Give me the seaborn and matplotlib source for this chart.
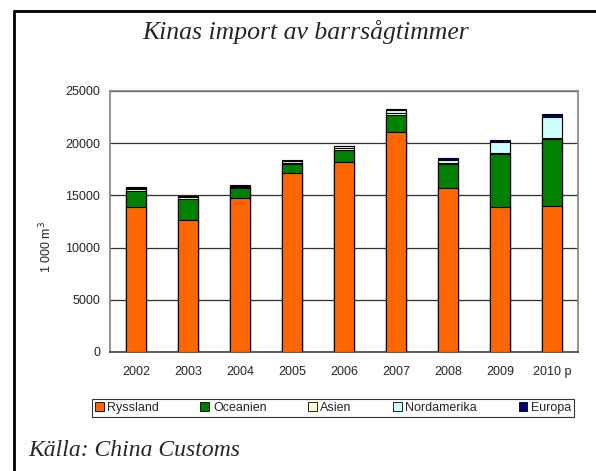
import numpy as np
import pandas as pd
import matplotlib
matplotlib.use('Agg')
import matplotlib.pyplot as plt
from matplotlib.patches import Patch
from matplotlib.lines import Line2D
import seaborn as sns

years = ['2002', '2003', '2004', '2005', '2006', '2007', '2008', '2009', '2010 p']
ryssland = [13900, 12600, 14750, 17100, 18200, 21100, 15750, 13850, 13950]
oceanien = [1550, 2100, 1000, 870, 1120, 1600, 2230, 5100, 6450]
asien = [150, 120, 100, 150, 230, 200, 100, 100, 60]
nordamerika = [100, 100, 80, 150, 150, 250, 350, 1050, 2080]
europa = [70, 50, 70, 90, 60, 130, 170, 230, 290]

series = ['Ryssland', 'Oceanien', 'Asien', 'Nordamerika', 'Europa']
colors = ['#FF6600', '#008000', '#FFFFCC', '#CCFFFF', '#000080']

df = pd.DataFrame({'year': years, 'Ryssland': ryssland, 'Oceanien': oceanien,
                   'Asien': asien, 'Nordamerika': nordamerika, 'Europa': europa})
cum = df[series].cumsum(axis=1)

sns.set_style('white')
plt.rcParams['font.family'] = ['Liberation Sans', 'DejaVu Sans']

fig = plt.figure(figsize=(5.96, 4.71), dpi=100)
ax = fig.add_axes([110 / 596, 1 - 352 / 471, 468 / 596, 261 / 471])

# stacked bars: draw cumulative totals from the top layer down
for name, col in reversed(list(zip(series, colors))):
    sns.barplot(x=df['year'], y=cum[name], color=col, saturation=1, width=0.4,
                edgecolor='black', linewidth=0.8, ax=ax, zorder=3)

ax.set_ylim(0, 25000)
ax.set_xlim(-0.5, 8.5)
ax.set_yticks(range(0, 25001, 5000))
ax.yaxis.grid(True, color='#303030', linewidth=0.9, zorder=0)
ax.set_axisbelow(True)
ax.set_xlabel('')
ax.set_ylabel('')
ax.set_xticks(np.arange(-0.5, 9, 1), minor=True)
ax.tick_params(axis='x', which='major', length=0, pad=10, labelsize=9)
ax.tick_params(axis='x', which='minor', length=4, direction='out', color='#606060', width=1)
ax.tick_params(axis='y', length=4, direction='out', color='#606060', width=1, labelsize=9, pad=3)
for s in ax.spines.values():
    s.set_color('#808080')
    s.set_linewidth(1.2)
ax.spines['bottom'].set_color('#404040')

fig.text(46 / 596, 1 - 247 / 471, '1 000 m$^3$', rotation=90, ha='center', va='center', fontsize=9)

fig.text(306 / 596, 1 - 32 / 471, 'Kinas import av barrsågtimmer', ha='center', va='center',
         fontsize=18.5, style='italic', family='Liberation Serif')
fig.text(28 / 596, 1 - 450 / 471, 'Källa: China Customs', ha='left', va='center',
         fontsize=17, style='italic', family='Liberation Serif')

handles = [Patch(facecolor=c, edgecolor='black', linewidth=0.6) for c in colors]
leg = fig.legend(handles, series, loc='center', bbox_to_anchor=(333 / 596, 1 - 408 / 471),
                 ncol=5, fontsize=9, frameon=True, fancybox=False, handlelength=0.7,
                 handleheight=0.7, handletextpad=0.3, columnspacing=3.3,
                 borderpad=0.25, borderaxespad=0)
leg.get_frame().set_edgecolor('black')
leg.get_frame().set_linewidth(0.8)

# outer frame (cut off at right and bottom)
fig.add_artist(Line2D([14 / 596, 1], [1 - 11 / 471, 1 - 11 / 471], color='black', lw=2, transform=fig.transFigure))
fig.add_artist(Line2D([14 / 596, 14 / 596], [0, 1 - 11 / 471], color='black', lw=2, transform=fig.transFigure))

fig.savefig('out.png', dpi=100)
